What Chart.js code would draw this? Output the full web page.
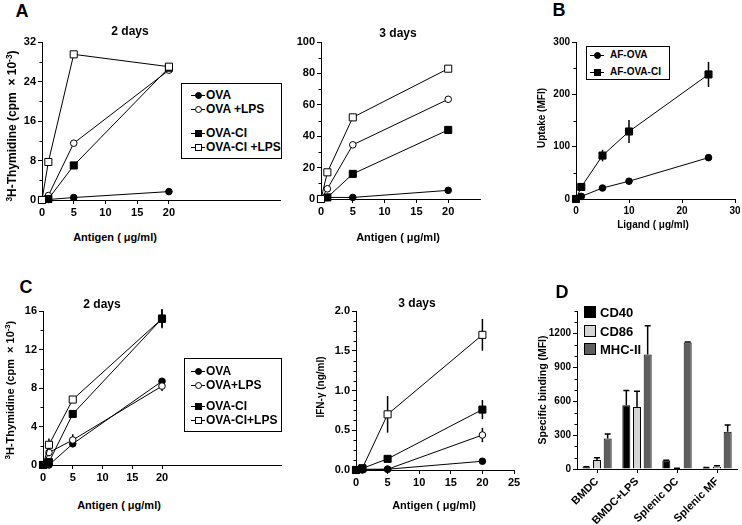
<!DOCTYPE html>
<html>
<head>
<meta charset="utf-8">
<title>OVA / OVA-CI panels</title>
<script src="https://cdn.jsdelivr.net/npm/chart.js@4.4.1/dist/chart.umd.min.js"></script>
<style>
  body { margin: 0; background: #fff; }
  #page { position: relative; width: 742px; height: 525px; overflow: hidden; background: #fff;
          font-family: "Liberation Sans", Arial, sans-serif; font-weight: bold; color: #000; }
  #page canvas { position: absolute; }
  .txt { position: absolute; white-space: nowrap; line-height: 1; transform: translate(-50%, -50%); }
  .txt.rot { transform: translate(-50%, -50%) rotate(-90deg); }
  .txt sup { font-size: 70%; vertical-align: 0.5em; line-height: 0; }
  .legend { position: absolute; box-sizing: border-box; }
  .legend div { position: absolute; box-sizing: border-box; }
</style>
</head>
<body>
<div id="page"></div>
<script>
// ---- data ----
// A: 3H-thymidine uptake, 2 and 3 days
const antigenDose = [0, 1, 5, 20];
const seriesA = ['OVA', 'OVA +LPS', 'OVA-CI', 'OVA-CI +LPS'];
const a2dOva = [0, 0.1, 0.5, 1.7];
const a2dOvaLps = [0, 0.9, 11.5, 26.3];
const a2dOvaCi = [0, 0.2, 7.0, 26.8];
const a2dOvaCiLps = [0, 7.7, 29.5, 27.0];
const a3dOva = [0, 1, 1, 5.5];
const a3dOvaLps = [0, 6.5, 34.5, 63.5];
const a3dOvaCi = [0, 1, 16, 44];
const a3dOvaCiLps = [0, 17, 52, 83];
const a2dYTicks = [0, 8, 16, 24, 32];
const a2dYMinor = [4, 12, 20, 28];
const a3dYTicks = [0, 20, 40, 60, 80, 100];
const a3dYMinor = [10, 30, 50, 70, 90];
const antigenTicks = [0, 5, 10, 15, 20];
const antigenTicks25 = [0, 5, 10, 15, 20, 25];

// B: uptake
const ligandDose = [0, 1, 5, 10, 25];
const seriesB = ['AF-OVA', 'AF-OVA-CI'];
const bAfOva = [0, 5, 21, 34, 79];
const bAfOvaErr = [0, 1, 2, 3, 3];
const bAfOvaCi = [0, 23, 83, 129, 238];
const bAfOvaCiErr = [0, 4, 11, 22, 24];
const bYTicks = [0, 100, 200, 300];
const bYMinor = [50, 150, 250];
const ligandTicks = [0, 10, 20, 30];

// C: proliferation 2 days, IFN-g 3 days
const seriesC = ['OVA', 'OVA+LPS', 'OVA-CI', 'OVA-CI+LPS'];
const c2dOva = [0, 0, 2.2, 8.7];
const c2dOvaErr = [0, 0.1, 0.3, 0.2];
const c2dOvaLps = [0, 1.3, 2.6, 8.2];
const c2dOvaLpsErr = [0, 0.4, 0.6, 0.5];
const c2dOvaCi = [0, 0.3, 5.3, 15.2];
const c2dOvaCiErr = [0, 0.2, 0.4, 0.9];
const c2dOvaCiLps = [0, 2.1, 6.8, 15.2];
const c2dOvaCiLpsErr = [0, 0.65, 0.2, 1.0];
const c3dOva = [0, 0, 0.01, 0.11];
const c3dOvaErr = [0, 0, 0, 0.01];
const c3dOvaLps = [0, 0.01, 0.01, 0.44];
const c3dOvaLpsErr = [0, 0, 0, 0.09];
const c3dOvaCi = [0, 0.02, 0.14, 0.76];
const c3dOvaCiErr = [0, 0, 0.01, 0.12];
const c3dOvaCiLps = [0, 0.02, 0.70, 1.70];
const c3dOvaCiLpsErr = [0, 0, 0.23, 0.2];
const c2dYTicks = [0, 4, 8, 12, 16];
const c2dYMinor = [2, 6, 10, 14];
const c3dYTicks = [0, 0.5, 1.0, 1.5, 2.0];
const c3dYMinor = [0.125, 0.25, 0.375, 0.625, 0.75, 0.875, 1.125, 1.25, 1.375, 1.625, 1.75, 1.875];

// D: specific binding
const cellTypes = ['BMDC', 'BMDC+LPS', 'Splenic DC', 'Splenic MF'];
const markersD = ['CD40', 'CD86', 'MHC-II'];
const dCd40 = [15, 565, 75, 10];
const dCd40Err = [5, 130, 3, 4];
const dCd86 = [80, 550, 5, 20];
const dCd86Err = [20, 140, 2, 8];
const dMhc2 = [270, 1015, 1120, 330];
const dMhc2Err = [40, 255, 5, 60];
const dYTicks = [0, 300, 600, 900, 1200];
const dYMinor = [100, 200, 400, 500, 700, 800, 1000, 1100, 1300, 1400];

// ---- helpers ----
const FONT = '"Liberation Sans", Arial, sans-serif';
Chart.defaults.font.family = FONT;
Chart.defaults.color = '#000';
const page = document.getElementById('page');

const marks = [
  { style: 'circle', fill: '#000' },
  { style: 'circle', fill: '#fff' },
  { style: 'rect', fill: '#000' },
  { style: 'rect', fill: '#fff' }
];
const barFills = ['#000000', '#d4d4d4', '#5e5e5e'];

function xySeries(label, xs, ys, errs, mark, order) {
  return {
    label, order,
    data: xs.map((x, i) => ({ x, y: ys[i] })),
    errors: errs,
    showLine: true,
    borderColor: '#000',
    borderWidth: 1,
    pointStyle: mark.style,
    pointRadius: mark.style === 'rect' ? 5 : 3.3,
    pointHoverRadius: mark.style === 'rect' ? 5 : 3.3,
    pointBackgroundColor: mark.fill,
    pointBorderColor: '#000',
    pointBorderWidth: 1,
    clip: false
  };
}

function axis(min, max, major, fmt, size, fixed, horizontal) {
  return {
    type: 'linear', min, max,
    afterBuildTicks: s => { s.ticks = major.map(v => ({ value: v })); },
    afterFit: s => { if (horizontal) s.height = fixed; else s.width = fixed; },
    grid: { drawOnChartArea: false, drawTicks: true, tickLength: 4, color: '#000', tickColor: '#000', lineWidth: 1 },
    border: { display: true, color: '#000', width: 1 },
    ticks: { autoSkip: false, maxRotation: 0, padding: 2, color: '#000',
             font: { size, weight: 'bold' }, callback: v => fmt(v) }
  };
}
const intFmt = v => String(v);
const oneDec = v => v.toFixed(1);

// short minor ticks on the y axis, placed by the scale
function minorTicks(values) {
  return {
    id: 'minorTicks',
    afterDraw(chart) {
      const s = chart.scales.y, ctx = chart.ctx;
      ctx.save();
      ctx.strokeStyle = '#000';
      ctx.lineWidth = 1;
      values.forEach(v => {
        const py = Math.round(s.getPixelForValue(v)) + 0.5;
        ctx.beginPath();
        ctx.moveTo(s.right - 2.5, py);
        ctx.lineTo(s.right, py);
        ctx.stroke();
      });
      ctx.restore();
    }
  };
}

// vertical error bars from dataset.errors
function errorBars(cap, upOnly) {
  return {
    id: 'errorBars',
    beforeDatasetsDraw(chart) {
      const ctx = chart.ctx, ys = chart.scales.y;
      chart.data.datasets.forEach((ds, i) => {
        if (!ds.errors) return;
        const meta = chart.getDatasetMeta(i);
        ctx.save();
        ctx.strokeStyle = '#000';
        ctx.lineWidth = 1.5;
        meta.data.forEach((el, j) => {
          const e = ds.errors[j];
          if (!e) return;
          const raw = ds.data[j];
          const v = typeof raw === 'object' ? raw.y : raw;
          const top = ys.getPixelForValue(v + e);
          const bot = upOnly ? ys.getPixelForValue(v) : ys.getPixelForValue(v - e);
          ctx.beginPath();
          ctx.moveTo(el.x, top);
          ctx.lineTo(el.x, bot);
          if (cap) { ctx.moveTo(el.x - cap, top); ctx.lineTo(el.x + cap, top); }
          ctx.stroke();
        });
        ctx.restore();
      });
    }
  };
}

// place a chart so that its plot area lands on [l,t]-[r,b] of the page
function placeChart(area, cfg, yW, xH) {
  const padT = 12, padR = 14;
  const c = document.createElement('canvas');
  const w = yW + (area.r - area.l) + padR;
  const h = padT + (area.b - area.t) + xH;
  c.width = w; c.height = h;
  c.style.left = (area.l - yW) + 'px';
  c.style.top = (area.t - padT) + 'px';
  c.style.width = w + 'px';
  c.style.height = h + 'px';
  page.appendChild(c);
  cfg.options.layout = { padding: { left: 0, top: padT, right: padR, bottom: 0 } };
  cfg.options.responsive = false;
  cfg.options.animation = false;
  cfg.options.devicePixelRatio = 1;
  cfg.options.plugins = Object.assign({ legend: { display: false }, tooltip: { enabled: false } }, cfg.options.plugins || {});
  return new Chart(c, cfg);
}

function addText(html, x, y, size, rot) {
  const d = document.createElement('div');
  d.className = 'txt' + (rot ? ' rot' : '');
  d.style.left = x + 'px';
  d.style.top = y + 'px';
  d.style.fontSize = size + 'px';
  d.innerHTML = html;
  page.appendChild(d);
}

function addLegend(box, names, styles, rows, mx, tx, size, bordered) {
  const lg = document.createElement('div');
  lg.className = 'legend';
  Object.assign(lg.style, { left: box.l + 'px', top: box.t + 'px', width: (box.r - box.l) + 'px',
    height: (box.b - box.t) + 'px', border: bordered ? '1.5px solid #000' : 'none', background: bordered ? '#fff' : 'transparent' });
  names.forEach((name, i) => {
    const y = rows[i], st = styles[i];
    if (st.line) {
      const ln = document.createElement('div');
      Object.assign(ln.style, { left: (mx - 7) + 'px', top: (y - 0.5) + 'px', width: '14px', height: '1px', background: '#000' });
      lg.appendChild(ln);
    }
    const mk = document.createElement('div');
    Object.assign(mk.style, { left: (mx - st.size / 2) + 'px', top: (y - st.size / 2) + 'px', width: st.size + 'px',
      height: st.size + 'px', border: '1px solid #000', background: st.fill, borderRadius: st.round ? '50%' : '0' });
    lg.appendChild(mk);
    const t = document.createElement('div');
    Object.assign(t.style, { left: tx + 'px', top: y + 'px', transform: 'translateY(-50%)', fontSize: size + 'px', lineHeight: '1', whiteSpace: 'nowrap' });
    t.textContent = name;
    lg.appendChild(t);
  });
  page.appendChild(lg);
}

const legendMarks = marks.map(m => ({ line: true, fill: m.fill, round: m.style === 'circle', size: 7 }));

// ---- A, 2 days ----
placeChart({ l: 42, t: 42, r: 280, b: 200 }, {
  type: 'scatter',
  data: { datasets: [
    xySeries(seriesA[0], antigenDose, a2dOva, null, marks[0], 3),
    xySeries(seriesA[1], antigenDose, a2dOvaLps, null, marks[1], 2),
    xySeries(seriesA[2], antigenDose, a2dOvaCi, null, marks[2], 1),
    xySeries(seriesA[3], antigenDose, a2dOvaCiLps, null, marks[3], 0)
  ] },
  options: { scales: {
    x: axis(0, 37.5, antigenTicks, intFmt, 11, 30, true),
    y: axis(0, 32, a2dYTicks, intFmt, 11, 40, false)
  } },
  plugins: [minorTicks(a2dYMinor)]
}, 40, 30);

// ---- A, 3 days ----
placeChart({ l: 321, t: 42, r: 480, b: 199 }, {
  type: 'scatter',
  data: { datasets: [
    xySeries(seriesA[0], antigenDose, a3dOva, null, marks[0], 3),
    xySeries(seriesA[1], antigenDose, a3dOvaLps, null, marks[1], 2),
    xySeries(seriesA[2], antigenDose, a3dOvaCi, null, marks[2], 1),
    xySeries(seriesA[3], antigenDose, a3dOvaCiLps, null, marks[3], 0)
  ] },
  options: { scales: {
    x: axis(0, 25, antigenTicks, intFmt, 11, 30, true),
    y: axis(0, 100, a3dYTicks, intFmt, 11, 40, false)
  } },
  plugins: [minorTicks(a3dYMinor)]
}, 40, 30);

// ---- B ----
placeChart({ l: 576, t: 42, r: 735, b: 199 }, {
  type: 'scatter',
  data: { datasets: [
    xySeries(seriesB[0], ligandDose, bAfOva, bAfOvaErr, marks[0], 1),
    xySeries(seriesB[1], ligandDose, bAfOvaCi, bAfOvaCiErr, marks[2], 0)
  ] },
  options: { scales: {
    x: axis(0, 30, ligandTicks, intFmt, 10, 30, true),
    y: axis(0, 300, bYTicks, intFmt, 10, 36, false)
  } },
  plugins: [minorTicks(bYMinor), errorBars(0, false)]
}, 36, 30);

// ---- C, 2 days ----
placeChart({ l: 43, t: 311, r: 281, b: 465 }, {
  type: 'scatter',
  data: { datasets: [
    xySeries(seriesC[0], antigenDose, c2dOva, c2dOvaErr, marks[0], 3),
    xySeries(seriesC[1], antigenDose, c2dOvaLps, c2dOvaLpsErr, marks[1], 2),
    xySeries(seriesC[2], antigenDose, c2dOvaCi, c2dOvaCiErr, marks[2], 0),
    xySeries(seriesC[3], antigenDose, c2dOvaCiLps, c2dOvaCiLpsErr, marks[3], 1)
  ] },
  options: { scales: {
    x: axis(0, 40, antigenTicks, intFmt, 11, 30, true),
    y: axis(0, 16, c2dYTicks, intFmt, 11, 40, false)
  } },
  plugins: [minorTicks(c2dYMinor), errorBars(0, false)]
}, 40, 30);

// ---- C, 3 days (IFN-g) ----
placeChart({ l: 356, t: 311, r: 514, b: 470 }, {
  type: 'scatter',
  data: { datasets: [
    xySeries(seriesC[0], antigenDose, c3dOva, c3dOvaErr, marks[0], 1),
    xySeries(seriesC[1], antigenDose, c3dOvaLps, c3dOvaLpsErr, marks[1], 3),
    xySeries(seriesC[2], antigenDose, c3dOvaCi, c3dOvaCiErr, marks[2], 0),
    xySeries(seriesC[3], antigenDose, c3dOvaCiLps, c3dOvaCiLpsErr, marks[3], 2)
  ] },
  options: { scales: {
    x: axis(0, 25, antigenTicks25, intFmt, 11, 30, true),
    y: axis(0, 2.0, c3dYTicks, oneDec, 11, 40, false)
  } },
  plugins: [minorTicks(c3dYMinor), errorBars(0, false)]
}, 40, 30);

// ---- D ----
placeChart({ l: 577, t: 311, r: 737, b: 469 }, {
  type: 'bar',
  data: {
    labels: cellTypes,
    datasets: [
      { label: markersD[0], data: dCd40, errors: dCd40Err, backgroundColor: barFills[0], borderColor: '#000', borderWidth: 1 },
      { label: markersD[1], data: dCd86, errors: dCd86Err, backgroundColor: barFills[1], borderColor: '#000', borderWidth: 1 },
      { label: markersD[2], data: dMhc2, errors: dMhc2Err, backgroundColor: barFills[2], borderColor: '#000', borderWidth: 1 }
    ]
  },
  options: {
    datasets: { bar: { categoryPercentage: 0.8, barPercentage: 0.75 } },
    scales: {
      x: {
        type: 'category',
        afterFit: s => { s.height = 60; },
        grid: { drawOnChartArea: false, drawTicks: true, tickLength: 4, offset: false, color: '#000' },
        border: { display: true, color: '#000', width: 1 },
        ticks: { minRotation: 45, maxRotation: 45, autoSkip: false, padding: 2, color: '#000', font: { size: 11, weight: 'bold' } }
      },
      y: axis(0, 1400, dYTicks, intFmt, 10, 36, false)
    }
  },
  plugins: [minorTicks(dYMinor), errorBars(3, true)]
}, 36, 60);

// ---- text ----
addText('A', 22, 11, 18);
addText('B', 559, 10, 18);
addText('C', 26, 287, 18);
addText('D', 562, 292, 18);

addText('2 days', 130, 31, 12);
addText('3 days', 398, 33, 12);
addText('2 days', 102, 304, 12);
addText('3 days', 417, 303, 12);

addText('<sup>3</sup>H-Thymidine (cpm&nbsp; × 10<sup>-3</sup>)', 12, 126, 12, true);
addText('<sup>3</sup>H-Thymidine (cpm&nbsp; × 10<sup>-3</sup>)', 10, 390, 11, true);
addText('Uptake (MFI)', 542, 118, 10, true);
addText('IFN-γ (ng/ml)', 321, 387, 10, true);
addText('Specific binding (MFI)', 542, 390, 10.5, true);

addText('Antigen ( μg/ml)', 115, 237, 11);
addText('Antigen ( μg/ml)', 398, 237, 11);
addText('Ligand ( μg/ml)', 653, 225, 10);
addText('Antigen ( μg/ml)', 119, 505, 11);
addText('Antigen ( μg/ml)', 434, 505, 11);

// ---- legends ----
addLegend({ l: 181, t: 83, r: 282, b: 159 }, seriesA, legendMarks, [11, 25, 49, 63], 16, 24, 12, true);
addLegend({ l: 184, t: 358, r: 282, b: 432 }, seriesC, legendMarks, [12, 26, 47, 61], 13, 21, 12, true);
addLegend({ l: 586, t: 46, r: 670, b: 80 }, seriesB, [legendMarks[0], legendMarks[2]], [8, 25], 10, 23, 10, true);
addLegend({ l: 583, t: 305, r: 665, b: 360 }, markersD,
  barFills.map(f => ({ line: false, fill: f, round: false, size: 12 })), [7, 26, 44], 7, 17, 13, false);
</script>
</body>
</html>
